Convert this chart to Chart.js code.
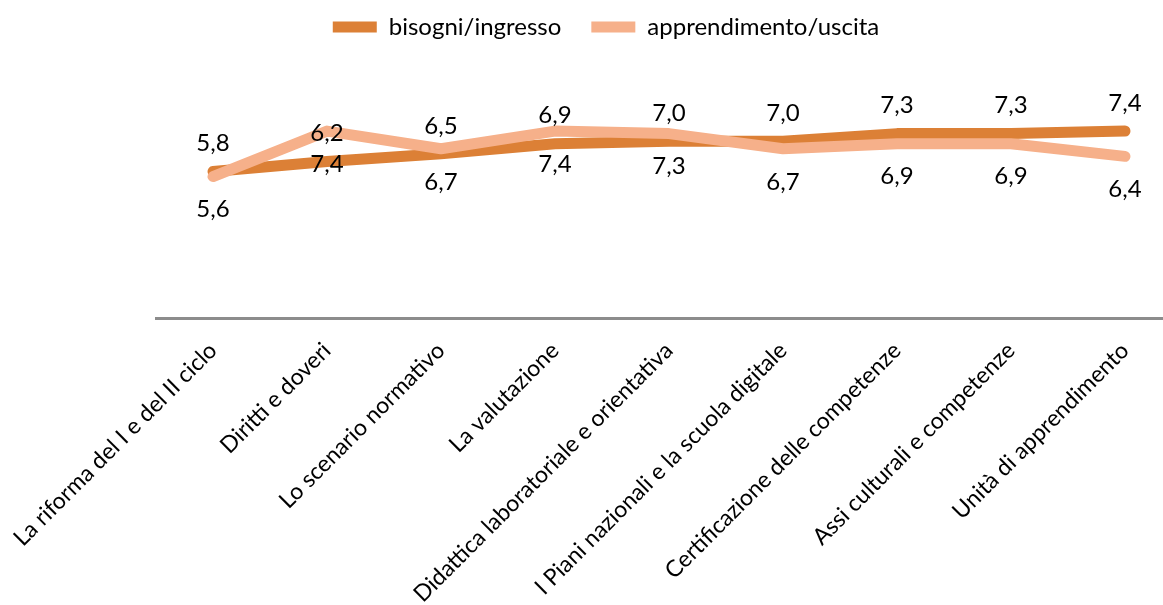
<!DOCTYPE html>
<html><head><meta charset="utf-8">
<script src="https://cdn.jsdelivr.net/npm/chart.js@4"></script>
<style>
html,body{margin:0;padding:0;background:#fff;overflow:hidden;width:1163px;height:605px}
#wrap{position:absolute;left:0;top:0;width:1212px;height:605px}
</style>
</head><body><div id="wrap"><canvas id="c"></canvas></div>
<script>
const categories = [
  'La riforma del I e del II ciclo',
  'Diritti e doveri',
  'Lo scenario normativo',
  'La valutazione',
  'Didattica laboratoriale e orientativa',
  'I Piani nazionali e la scuola digitale',
  'Certificazione delle competenze',
  'Assi culturali e competenze',
  'Unità di apprendimento'
];
const seriesNames = ['bisogni/ingresso', 'apprendimento/uscita'];
const bisogni = [5.8, 6.2, 6.5, 6.9, 7.0, 7.0, 7.3, 7.3, 7.4];
const apprendimento = [5.6, 7.4, 6.7, 7.4, 7.3, 6.7, 6.9, 6.9, 6.4];
const yMin = 0, yMax = 10.65;

const COL_DARK = '#DC8036';
const COL_LIGHT = '#F6B08A';
const FONT = 'Lato, "Open Sans", sans-serif';

const fmt = v => v.toFixed(1).replace('.', ',');

const valueLabels = {
  id: 'valueLabels',
  afterDatasetsDraw(chart) {
    const ctx = chart.ctx;
    ctx.save();
    ctx.font = '24px ' + FONT;
    ctx.fillStyle = '#000';
    ctx.textAlign = 'center';
    ctx.textBaseline = 'middle';
    const m0 = chart.getDatasetMeta(0);
    const m1 = chart.getDatasetMeta(1);
    m0.data.forEach((pt, i) => {
      ctx.fillText(fmt(chart.data.datasets[0].data[i]), pt.x, pt.y - 28);
    });
    m1.data.forEach((pt, i) => {
      ctx.fillText(fmt(chart.data.datasets[1].data[i]), pt.x, pt.y + 33);
    });
    ctx.restore();
  }
};

new Chart(document.getElementById('c'), {
  type: 'line',
  data: {
    labels: categories,
    datasets: [
      { label: seriesNames[0], data: bisogni, borderColor: COL_DARK, backgroundColor: COL_DARK,
        borderWidth: 11, pointRadius: 0, tension: 0, borderCapStyle: 'round', borderJoinStyle: 'round', order: 1 },
      { label: seriesNames[1], data: apprendimento, borderColor: COL_LIGHT, backgroundColor: COL_LIGHT,
        borderWidth: 11, pointRadius: 0, tension: 0, borderCapStyle: 'round', borderJoinStyle: 'round', order: 0 }
    ]
  },
  options: {
    responsive: true,
    maintainAspectRatio: false,
    animation: false,
    events: [],
    layout: { padding: { top: -15, left: 0, right: 0, bottom: 0 } },
    plugins: {
      tooltip: { enabled: false },
      legend: {
        position: 'top',
        labels: {
          font: { family: FONT, size: 24 },
          color: '#000',
          boxWidth: 44,
          boxHeight: 11,
          padding: 30,
          useBorderRadius: true,
          borderRadius: 4,
          generateLabels(chart) {
            return chart.data.datasets.map((d, i) => ({
              text: d.label, fillStyle: d.borderColor, strokeStyle: d.borderColor,
              lineWidth: 0, hidden: false, datasetIndex: i, fontColor: '#000'
            }));
          }
        }
      }
    },
    scales: {
      x: {
        offset: true,
        grid: { display: false, drawTicks: false },
        border: { display: true, color: '#8C8C8C', width: 3 },
        ticks: { minRotation: 45, maxRotation: 45, autoSkip: false, padding: 19,
                 color: '#000', font: { family: FONT, size: 23 } },
        afterFit(axis) {
          axis.paddingLeft = 156; axis.paddingRight = 30;
          axis.height = 287;
        }
      },
      y: { display: false, min: yMin, max: yMax }
    }
  },
  plugins: [valueLabels]
});
</script>
</body></html>
